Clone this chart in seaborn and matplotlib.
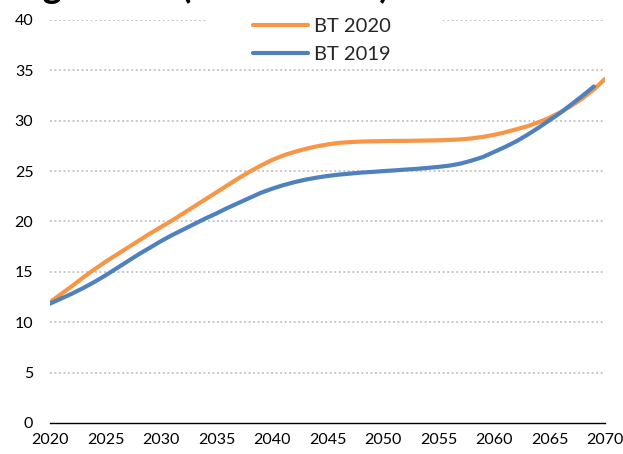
import matplotlib
matplotlib.use("Agg")
import matplotlib.pyplot as plt
from matplotlib.patches import Rectangle
import seaborn as sns
import pandas as pd

# BT 2020 projection (annual)
years_2020 = list(range(2020, 2071))
values_2020 = [12.0, 12.8, 13.6, 14.45, 15.25, 16.0, 16.7, 17.4, 18.1, 18.8,
               19.45, 20.1, 20.8, 21.5, 22.2, 22.9, 23.6, 24.3, 24.95, 25.55,
               26.1, 26.55, 26.9, 27.2, 27.45, 27.65, 27.8, 27.88, 27.93, 27.96,
               27.98, 28.0, 28.0, 28.02, 28.04, 28.06, 28.1, 28.15, 28.25, 28.4,
               28.6, 28.85, 29.15, 29.45, 29.85, 30.3, 30.85, 31.5, 32.25, 33.1,
               34.15]

# BT 2019 projection (annual)
years_2019 = list(range(2020, 2070))
values_2019 = [11.85, 12.35, 12.85, 13.4, 14.0, 14.65, 15.35, 16.05, 16.75, 17.4,
               18.05, 18.65, 19.2, 19.75, 20.3, 20.8, 21.35, 21.85, 22.35, 22.85,
               23.25, 23.6, 23.9, 24.15, 24.35, 24.52, 24.65, 24.75, 24.85, 24.92,
               25.0, 25.07, 25.15, 25.22, 25.32, 25.42, 25.55, 25.75, 26.05, 26.4,
               26.9, 27.4, 27.95, 28.6, 29.3, 30.05, 30.8, 31.65, 32.5, 33.4]

series_names = ["BT 2020", "BT 2019"]
series_colors = ["#F79646", "#4F81BD"]
x_ticks = list(range(2020, 2071, 5))
y_ticks = list(range(0, 41, 5))

df = pd.concat([
    pd.DataFrame({"anno": years_2020, "valore": values_2020, "serie": series_names[0]}),
    pd.DataFrame({"anno": years_2019, "valore": values_2019, "serie": series_names[1]}),
])

sns.set_style("white")
plt.rcParams["font.family"] = ["Lato", "DejaVu Sans"]

fig = plt.figure(figsize=(6.23, 4.54), dpi=100)
ax = fig.add_axes([50 / 623, 1 - 423 / 454, 555 / 623, 403 / 454])

sns.lineplot(data=df, x="anno", y="valore", hue="serie", hue_order=series_names,
             palette=series_colors, linewidth=3.0, ax=ax, legend=False,
             solid_capstyle="round", solid_joinstyle="round")

ax.set_xlim(2020, 2070)
ax.set_ylim(0, 40)
ax.set_xticks(x_ticks)
ax.set_yticks(y_ticks)
ax.set_xlabel("")
ax.set_ylabel("")
ax.tick_params(axis="both", length=0, labelsize=11.5, colors="#000000")
ax.tick_params(axis="y", pad=12)
ax.tick_params(axis="x", pad=7)

for y in y_ticks[1:]:
    ax.axhline(y, color="#BFBFBF", linewidth=1.3, linestyle=(0, (1, 1.5)), zorder=0)
for side in ["top", "right", "left"]:
    ax.spines[side].set_visible(False)
ax.spines["bottom"].set_color("#000000")
ax.spines["bottom"].set_linewidth(1.0)

# white legend area spanning the top gridline
fig.patches.append(Rectangle((208 / 623, 1 - 64 / 454), 232 / 623, 56 / 454,
                             transform=fig.transFigure, facecolor="white",
                             edgecolor="none", zorder=1))

handles = [plt.Line2D([], [], color=c, linewidth=3.0) for c in series_colors]
leg = fig.legend(handles, series_names, loc="upper center",
                 bbox_to_anchor=(322 / 623, 1 - 14 / 454), frameon=False,
                 fontsize=14.5, handlelength=2.7, handletextpad=0.3,
                 labelspacing=0.52, borderpad=0.2, borderaxespad=0)
leg.set_zorder(2)

fig.text(0.003, 1 + 2.5 / 454, "Pagamenti (miliardi di €)", fontsize=26,
         fontweight="bold", ha="left", va="baseline", color="#000000")

fig.savefig("out.png", dpi=100)
